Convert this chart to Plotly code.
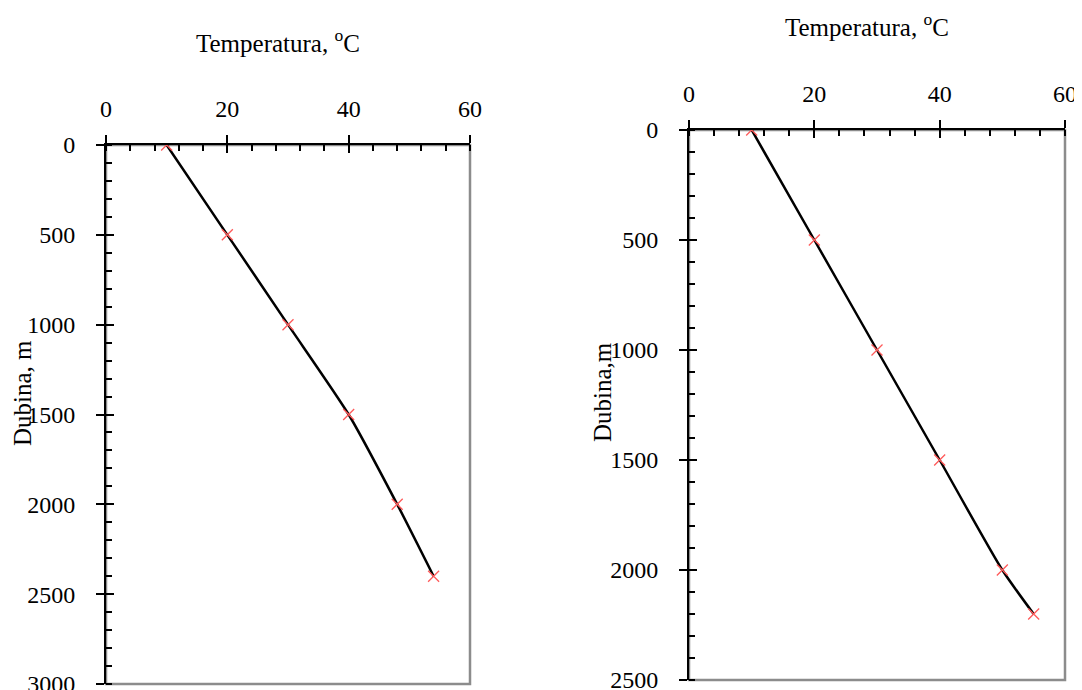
import plotly.graph_objects as go

# Data
temp_left = [10, 20, 30, 40, 48, 54]
depth_left = [0, 500, 1000, 1500, 2000, 2400]
temp_right = [10, 20, 30, 40, 50, 55]
depth_right = [0, 500, 1000, 1500, 2000, 2200]

x_title = "Temperatura, <sup>o</sup>C"
y_title_left = "Dubina, m"
y_title_right = "Dubina,m"

FONT = "Liberation Serif, Times New Roman, serif"
RED = "#ff5a5a"

# page has an 8px body margin: figure is placed at (8, 8)
OFF = 8
W, H = 1082 - OFF, 690 - OFF

def px(x):
    return (x - OFF) / W

def py(y):
    return 1 - (y - OFF) / H

fig = go.Figure()

def add_series(xs, ys, xa, ya):
    fig.add_trace(go.Scatter(x=xs, y=ys, xaxis=xa, yaxis=ya, mode="lines",
                             line=dict(color="black", width=2.5, shape="spline", smoothing=0.6),
                             hoverinfo="skip", showlegend=False))
    fig.add_trace(go.Scatter(x=xs, y=ys, xaxis=xa, yaxis=ya, mode="markers",
                             marker=dict(symbol="x-thin", size=11, line=dict(color=RED, width=1.3)),
                             showlegend=False))

add_series(temp_left, depth_left, "x", "y")
add_series(temp_right, depth_right, "x2", "y2")
# empty traces so the overlay axes (inner part of crossing ticks) are drawn
fig.add_trace(go.Scatter(x=[], y=[], xaxis="x3", yaxis="y3", showlegend=False))
fig.add_trace(go.Scatter(x=[], y=[], xaxis="x4", yaxis="y4", showlegend=False))

tickfont = dict(family=FONT, size=24, color="black")

L_x = [px(106), px(470)]
L_y = [py(684), py(145)]
R_x = [px(689), px(1065)]
R_y = [py(680), py(130)]

def xax(domain, anchor):
    return dict(domain=domain, anchor=anchor, range=[0, 60], side="top", automargin=False,
                showline=True, linecolor="black", linewidth=2,
                ticks="outside", ticklen=8, tickwidth=1.5, tickcolor="black",
                dtick=20, tick0=0, tickfont=tickfont, ticklabelstandoff=8,
                ticklabeloverflow="allow",
                minor=dict(dtick=4, ticks="inside", ticklen=6, tickwidth=1.5, tickcolor="black"),
                showgrid=False, zeroline=False, fixedrange=True)

def yax(domain, anchor, top):
    return dict(domain=domain, anchor=anchor, range=[top, 0], automargin=False,
                showline=True, linecolor="black", linewidth=2,
                ticks="outside", ticklen=8, tickwidth=1.5, tickcolor="black",
                dtick=500, tick0=0, tickfont=tickfont, ticklabelstandoff=16,
                ticklabeloverflow="allow",
                minor=dict(dtick=100, ticks="inside", ticklen=6, tickwidth=1.5, tickcolor="black"),
                showgrid=False, zeroline=False, fixedrange=True)

def xover(domain, anchor, over):
    return dict(domain=domain, anchor=anchor, overlaying=over, range=[0, 60], side="top",
                automargin=False, showline=False, ticks="inside", ticklen=8, tickwidth=1.5,
                tickcolor="black", dtick=20, tick0=0, showticklabels=False,
                showgrid=False, zeroline=False)

def yover(domain, anchor, over, top):
    return dict(domain=domain, anchor=anchor, overlaying=over, range=[top, 0],
                automargin=False, showline=False, ticks="inside", ticklen=8, tickwidth=1.5,
                tickcolor="black", dtick=500, tick0=0, showticklabels=False,
                showgrid=False, zeroline=False)

fig.update_layout(
    template="none",
    width=W, height=H,
    margin=dict(l=0, r=0, t=0, b=0, autoexpand=False),
    paper_bgcolor="white", plot_bgcolor="white",
    font=dict(family=FONT, color="black"),
    xaxis=xax(L_x, "y"),
    yaxis=yax(L_y, "x", 3000),
    xaxis2=xax(R_x, "y2"),
    yaxis2=yax(R_y, "x2", 2500),
    xaxis3=xover(L_x, "y", "x"),
    yaxis3=yover(L_y, "x", "y", 3000),
    xaxis4=xover(R_x, "y2", "x2"),
    yaxis4=yover(R_y, "x2", "y2", 2500),
    showlegend=False,
)

# gray plot-area frame (right/bottom edges visible)
for xr, yr in (("x domain", "y domain"), ("x2 domain", "y2 domain")):
    fig.add_shape(type="rect", xref=xr, yref=yr, x0=0, x1=1, y0=0, y1=1,
                  line=dict(color="#8c8c8c", width=2.5), layer="below")

# axis titles
tfont = dict(family=FONT, size=25, color="black")
fig.add_annotation(text=x_title, xref="paper", yref="paper", x=px(278), y=py(41),
                   showarrow=False, font=tfont, xanchor="center", yanchor="middle")
fig.add_annotation(text=x_title, xref="paper", yref="paper", x=px(867), y=py(25),
                   showarrow=False, font=tfont, xanchor="center", yanchor="middle")
fig.add_annotation(text=y_title_left, xref="paper", yref="paper", x=px(22), y=py(393),
                   showarrow=False, textangle=-90, font=tfont,
                   xanchor="center", yanchor="middle")
fig.add_annotation(text=y_title_right, xref="paper", yref="paper", x=px(602), y=py(392),
                   showarrow=False, textangle=-90, font=tfont,
                   xanchor="center", yanchor="middle")

fig.write_html("out.html")
